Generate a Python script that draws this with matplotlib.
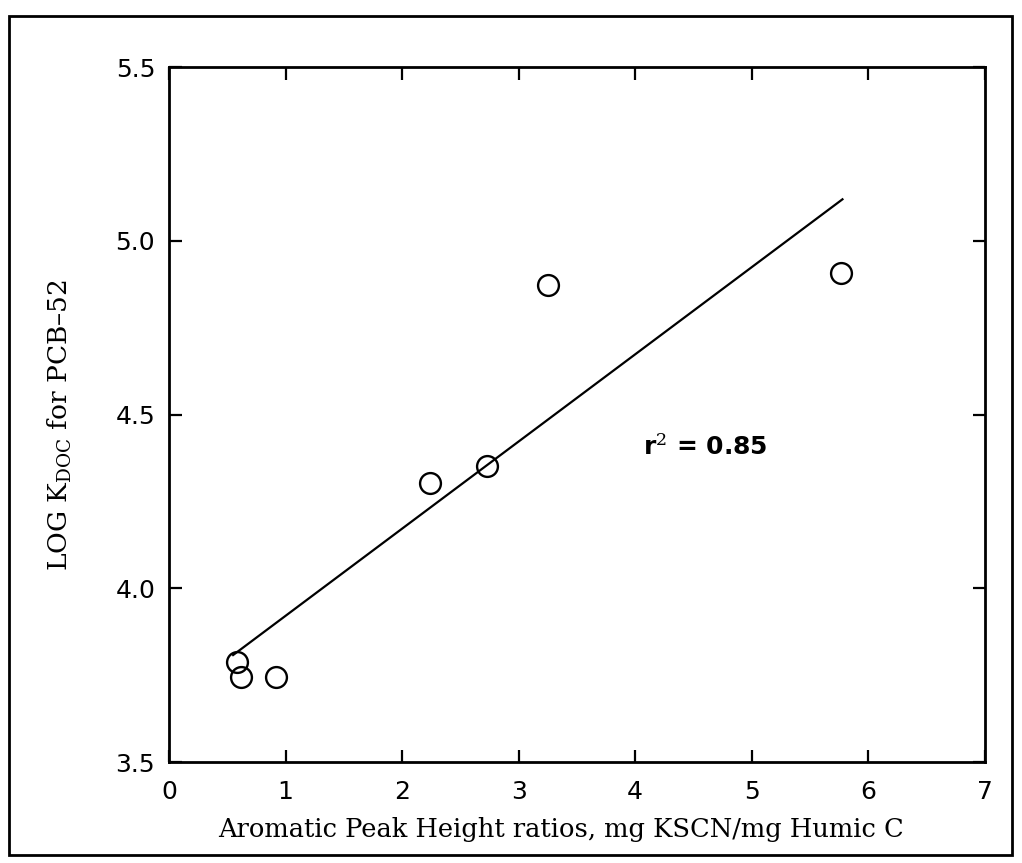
import numpy as np
import matplotlib
matplotlib.use("Agg")
import matplotlib.pyplot as plt
from matplotlib.patches import Rectangle

# values
peak_ratio = [0.58, 0.62, 0.92, 2.24, 2.73, 3.25, 5.77]
log_kdoc = [3.788, 3.745, 3.745, 4.303, 4.352, 4.873, 4.907]

# regression line end points (as drawn)
fit_x = [0.55, 5.78]
fit_y = [3.808, 5.12]

x_ticks = [0, 1, 2, 3, 4, 5, 6, 7]
y_ticks = [3.5, 4.0, 4.5, 5.0, 5.5]

plt.rcParams['mathtext.fontset'] = 'dejavuserif'

fig = plt.figure(figsize=(10.22, 8.63), dpi=100)
ax = fig.add_axes([0.1654, 0.117, 0.798, 0.805])

ax.plot(fit_x, fit_y, color='black', lw=1.6)
ax.plot(peak_ratio, log_kdoc, linestyle='none', marker='o', ms=15,
        mfc='none', mec='black', mew=1.7)

ax.set_xlim(0, 7)
ax.set_ylim(3.5, 5.5)
ax.set_xticks(x_ticks)
ax.set_yticks(y_ticks)
ax.set_xticklabels([str(t) for t in x_ticks])
ax.set_yticklabels(['%.1f' % t for t in y_ticks])
ax.tick_params(direction='in', length=9, width=1.6, top=True, right=True,
               labelsize=18)
ax.tick_params(axis='x', pad=13)
ax.tick_params(axis='y', pad=10)
for s in ax.spines.values():
    s.set_linewidth(2)

ax.set_xlabel('Aromatic Peak Height ratios, mg KSCN/mg Humic C',
              family='DejaVu Serif', fontsize=18.5, labelpad=9)
ax.set_ylabel(r'LOG K$_{\mathrm{DOC}}$ for PCB–52',
              family='DejaVu Serif', fontsize=19, labelpad=30)
ax.xaxis.label.set_x(0.48)
ax.yaxis.label.set_y(0.485)

ax.text(4.07, 4.385, r'r$^2$ = 0.85', fontsize=18, fontweight='bold')

# outer frame around whole figure
fig.patches.append(Rectangle((0.0088, 0.0093), 0.981, 0.972,
                             transform=fig.transFigure, fill=False,
                             lw=2, edgecolor='black'))

fig.savefig('out.png', dpi=100)
